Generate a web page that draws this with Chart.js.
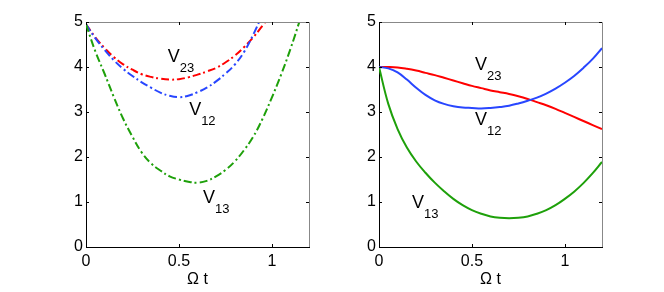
<!DOCTYPE html>
<html>
<head>
<meta charset="utf-8">
<script src="https://cdn.jsdelivr.net/npm/chart.js@4"></script>
<style>
  body { margin: 0; background: #fff; }
  #wrap { position: relative; width: 664px; height: 292px; }
  canvas { position: absolute; top: 0; }
</style>
</head>
<body>
<div id="wrap">
  <canvas id="left" width="332" height="292" style="left:0"></canvas>
  <canvas id="right" width="332" height="292" style="left:332px"></canvas>
</div>
<script>
// values, t = Omega t, every 0.05
const tVals = [0, 0.05, 0.1, 0.15, 0.2, 0.25, 0.3, 0.35, 0.4, 0.45, 0.5, 0.55, 0.6,
               0.65, 0.7, 0.75, 0.8, 0.85, 0.9, 0.95, 1.0, 1.05, 1.1, 1.15, 1.2];

// left panel (dash-dot)
const v23Left = [4.95, 4.66, 4.42, 4.22, 4.06, 3.94, 3.84, 3.78, 3.74, 3.72, 3.73, 3.77, 3.83,
                 3.9, 3.98, 4.1, 4.25, 4.44, 4.66, 4.92, 5.2, 5.5, 5.85, 6.2, 6.6];
const v12Left = [4.95, 4.64, 4.38, 4.15, 3.96, 3.8, 3.66, 3.54, 3.43, 3.36, 3.33, 3.36, 3.44,
                 3.54, 3.68, 3.85, 4.05, 4.33, 4.72, 5.18, 5.7, 6.2, 6.8, 7.4, 8.0];
const v13Left = [4.95, 4.35, 3.85, 3.33, 2.85, 2.45, 2.1, 1.86, 1.7, 1.57, 1.5, 1.45, 1.43,
                 1.47, 1.57, 1.71, 1.9, 2.15, 2.45, 2.85, 3.32, 3.83, 4.4, 5.03, 5.7];

// right panel (solid)
const v23Right = [4.0, 4.0, 3.99, 3.96, 3.92, 3.87, 3.82, 3.76, 3.7, 3.64, 3.58, 3.53, 3.48,
                  3.44, 3.4, 3.35, 3.29, 3.22, 3.15, 3.07, 2.98, 2.89, 2.8, 2.71, 2.62];
const v12Right = [4.0, 3.97, 3.88, 3.72, 3.54, 3.38, 3.26, 3.18, 3.13, 3.1, 3.09, 3.08, 3.09,
                  3.11, 3.14, 3.19, 3.25, 3.32, 3.41, 3.52, 3.65, 3.8, 3.98, 4.18, 4.42];
const v13Right = [4.0, 3.18, 2.62, 2.21, 1.9, 1.65, 1.43, 1.24, 1.07, 0.93, 0.82, 0.74, 0.68,
                  0.65, 0.64, 0.65, 0.68, 0.74, 0.82, 0.93, 1.07, 1.23, 1.42, 1.64, 1.89];

const xTicks = [0, 0.5, 1];
const yTicks = [0, 1, 2, 3, 4, 5];

// curve labels: name, subscript, t, value (anchor of the V)
const labelsLeft = [['V', '23', 0.44, 4.11], ['V', '12', 0.555, 2.93], ['V', '13', 0.63, 0.98]];
const labelsRight = [['V', '23', 0.516, 3.93], ['V', '12', 0.516, 2.71], ['V', '13', 0.177, 0.87]];

const RED = 'rgb(255,0,0)';
const BLUE = 'rgb(40,70,255)';
const GREEN = 'rgb(30,160,10)';
const FONT = '"Liberation Sans", Arial, sans-serif';

function pts(ts, vs) {
  return ts.map((t, i) => ({ x: t, y: vs[i] }));
}

const boxPlugin = {
  id: 'box',
  afterDraw(chart) {
    const ctx = chart.ctx;
    const a = chart.chartArea;
    const sx = chart.scales.x, sy = chart.scales.y;
    ctx.save();
    ctx.lineWidth = 1;
    ctx.strokeStyle = '#888';
    ctx.beginPath();
    ctx.moveTo(a.left, a.top + 0.5);
    ctx.lineTo(a.right + 0.5, a.top + 0.5);
    ctx.lineTo(a.right + 0.5, a.bottom);
    ctx.stroke();
    ctx.strokeStyle = '#000';
    ctx.beginPath();
    xTicks.forEach(v => {
      const px = Math.round(sx.getPixelForValue(v)) + 0.5;
      ctx.moveTo(px, a.bottom); ctx.lineTo(px, a.bottom - 3);
      ctx.moveTo(px, a.top); ctx.lineTo(px, a.top + 3);
    });
    yTicks.forEach(v => {
      const py = Math.round(sy.getPixelForValue(v)) + 0.5;
      ctx.moveTo(a.left, py); ctx.lineTo(a.left + 3, py);
      ctx.moveTo(a.right, py); ctx.lineTo(a.right - 3, py);
    });
    ctx.stroke();

    // curve names with subscripts
    ctx.fillStyle = '#000';
    ctx.textBaseline = 'alphabetic';
    ctx.textAlign = 'left';
    chart.options.plugins.box.labels.forEach(([name, sub, t, v]) => {
      const px = sx.getPixelForValue(t);
      const py = sy.getPixelForValue(v);
      ctx.font = '18px ' + FONT;
      ctx.fillText(name, px, py);
      const w = ctx.measureText(name).width;
      ctx.font = '13px ' + FONT;
      ctx.fillText(sub, px + w, py + 10);
    });
    ctx.restore();
  }
};

function makeChart(id, s23, s12, s13, dash, labels, padRight, yWidth) {
  const ds = (data, color) => ({
    data: pts(tVals, data),
    borderColor: color,
    borderWidth: 2,
    borderDash: dash,
    pointRadius: 0,
    tension: 0.4,
    fill: false
  });
  return new Chart(document.getElementById(id), {
    type: 'line',
    data: { datasets: [ds(s13, GREEN), ds(s12, BLUE), ds(s23, RED)] },
    options: {
      responsive: false,
      animation: false,
      layout: { padding: { left: 0, right: padRight, top: 22, bottom: 0 } },
      plugins: {
        legend: { display: false },
        tooltip: { enabled: false },
        box: { labels: labels }
      },
      scales: {
        x: {
          type: 'linear',
          min: 0, max: 1.2,
          afterBuildTicks: s => { s.ticks = xTicks.map(v => ({ value: v })); },
          afterFit: s => { s.height = 45; },
          grid: { display: false, drawTicks: false },
          border: { display: true, color: '#000', width: 1 },
          ticks: {
            color: '#000', padding: 5, maxRotation: 0,
            font: { family: FONT, size: 16 },
            callback: v => String(v)
          },
          title: {
            display: true, text: 'Ω t', color: '#000',
            font: { family: FONT, size: 16 },
            padding: { top: 0, bottom: 3 }
          }
        },
        y: {
          min: 0, max: 5,
          afterBuildTicks: s => { s.ticks = yTicks.map(v => ({ value: v })); },
          afterFit: s => { s.width = yWidth; },
          grid: { display: false, drawTicks: false },
          border: { display: true, color: '#000', width: 1 },
          ticks: {
            color: '#000', padding: 3,
            font: { family: FONT, size: 16 }
          }
        }
      }
    },
    plugins: [boxPlugin]
  });
}

makeChart('left', v23Left, v12Left, v13Left, [8, 3, 2, 3], labelsLeft, 23, 86);
makeChart('right', v23Right, v12Right, v13Right, [], labelsRight, 62, 47);
</script>
</body>
</html>
